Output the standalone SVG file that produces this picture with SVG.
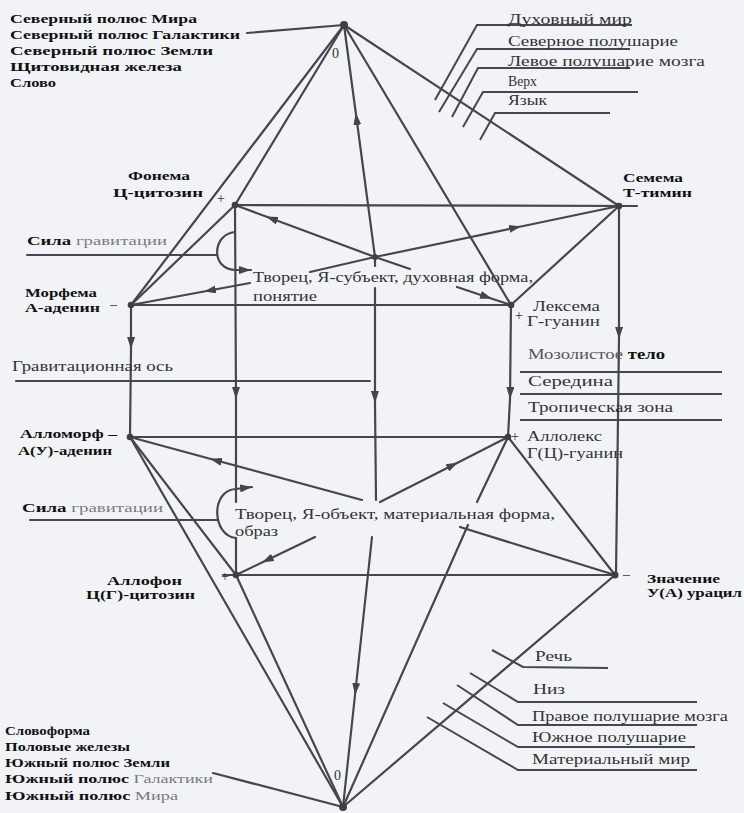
<svg xmlns="http://www.w3.org/2000/svg" width="744" height="813" viewBox="0 0 744 813">
<defs>
<marker id="arr" viewBox="0 0 12 8" refX="12" refY="4" markerWidth="12" markerHeight="8" markerUnits="userSpaceOnUse" orient="auto">
<path d="M0,0 L12,4 L0,8 z" fill="#44444e"/>
</marker>
<style>
.b{font-family:"Liberation Serif","DejaVu Serif",serif;font-weight:bold;font-size:13px;fill:#111}
.r{font-family:"Liberation Serif","DejaVu Serif",serif;font-size:14px;fill:#333}
.g{fill:#7a7a82;font-weight:normal}
.k{fill:#111;font-weight:bold}
.s{font-family:"Liberation Serif","DejaVu Serif",serif;font-size:15px;fill:#333}
.dot{fill:#3e3e48}
.ln{stroke:#46464f;stroke-width:2.2;fill:none;stroke-linecap:round}
.lt{stroke:#46464f;stroke-width:2;fill:none}
.am{marker-mid:url(#arr)}
.ae{marker-end:url(#arr)}
</style>
</defs>
<rect width="744" height="813" fill="#f2f3f6"/>

<g id="connectors">
<g class="ln">
<!-- upper frame -->
<line x1="235" y1="205" x2="637" y2="206"/>
<line x1="131" y1="305" x2="511" y2="305"/>
<line x1="235" y1="205" x2="131" y2="305"/>
<line x1="511" y1="305" x2="619" y2="206"/>
<!-- top apex -->
<line x1="344" y1="25" x2="131" y2="305"/>
<line x1="344" y1="25" x2="235" y2="205"/>
<line x1="344" y1="25" x2="511" y2="305"/>
<line x1="344" y1="25" x2="619" y2="206"/>
<line x1="344" y1="25" x2="247" y2="33"/>
<!-- lower frame -->
<line x1="130" y1="437" x2="508" y2="437"/>
<line x1="223" y1="575" x2="615" y2="575"/>
<line x1="130" y1="437" x2="236" y2="575"/>
<line x1="508" y1="437" x2="615" y2="575"/>
<!-- bottom apex -->
<line x1="130" y1="437" x2="343" y2="807"/>
<line x1="236" y1="575" x2="343" y2="807"/>
<line x1="508" y1="437" x2="477" y2="502"/>
<line x1="468" y1="525" x2="343" y2="807"/>
<line x1="615" y1="575" x2="343" y2="807"/>
<line x1="213" y1="773" x2="343" y2="807"/>
<!-- verticals -->
<path class="am" d="M131 305 L131 349 L130 437"/>
<path class="am" d="M235 205 L236 399 L236 502"/>
<line x1="236" y1="538" x2="236" y2="575"/>
<line x1="375" y1="257" x2="375" y2="266"/>
<path class="am" d="M375 288 L375 403 L376 500"/>
<path class="am" d="M511 305 L510 399 L508 437"/>
<path class="am" d="M619 206 L619 339 L616 575"/>
<!-- upper centre -->
<path class="am" d="M375 257 L355.8 113 L344 25"/>
<path class="am" d="M375 257 L266 216.5 L235 205"/>
<path class="am" d="M375 257 L521 226.5 L619 206"/>
<line x1="375" y1="257" x2="310" y2="272"/>
<path class="am" d="M250 283 L204 291.5 L131 305"/>
<line x1="375" y1="257" x2="410" y2="269"/>
<path class="am" d="M457 287 L492 298.7 L511 305"/>
<!-- lower centre -->
<path class="am" d="M362 500 L210 458.7 L130 437"/>
<path class="am" d="M380 502 L458 462.4 L508 437"/>
<path class="am" d="M315 537 L262 562.5 L236 575"/>
<path class="am" d="M372 537 L355 695 L343 807"/>
<line x1="460" y1="527" x2="615" y2="575"/>
<!-- gravity -->
<line x1="27" y1="255" x2="217" y2="255"/>
<path class="ae" d="M235 232 C212 234 210 270 236 270 L251 270"/>
<line x1="30" y1="520" x2="217" y2="520"/>
<path class="ae" d="M236 538 C212 536 210 490 236 489 L252 487"/>
<line x1="16" y1="381" x2="370" y2="381"/>
</g>
<g class="lt">
<!-- top right leaders -->
<polyline points="435,100 477,25 632,25"/>
<polyline points="439,112 477,49 630,49"/>
<polyline points="452,117 478,68 630,68"/>
<polyline points="463,127 483,92 638,92"/>
<polyline points="480,140 495,113 610,113"/>
<!-- right zone -->
<line x1="520" y1="372" x2="722" y2="372"/>
<line x1="520" y1="394" x2="722" y2="394"/>
<line x1="520" y1="420" x2="722" y2="420"/>
<!-- bottom right leaders -->
<polyline points="492,650 523,667 608,668"/>
<polyline points="470,673 518,702 697,702"/>
<polyline points="457,685 518,725 697,725"/>
<polyline points="443,703 518,747 695,747"/>
<polyline points="427,717 518,770 697,770"/>
</g>
</g>

<g id="north-apex">
<circle class="dot" cx="344" cy="25" r="4"/>
<text class="r" x="332" y="58" font-size="12">0</text>
<text class="b" x="10" y="22.5" textLength="187" lengthAdjust="spacingAndGlyphs">Северный полюс Мира</text>
<text class="b" x="10" y="38.5" textLength="230" lengthAdjust="spacingAndGlyphs">Северный полюс Галактики</text>
<text class="b" x="10" y="54.5" textLength="203" lengthAdjust="spacingAndGlyphs">Северный полюс Земли</text>
<text class="b" x="10" y="70.5" textLength="172" lengthAdjust="spacingAndGlyphs">Щитовидная железа</text>
<text class="b" x="10" y="86.5" textLength="46" lengthAdjust="spacingAndGlyphs">Слово</text>
</g>

<g id="north-labels">
<text class="r" x="508" y="24" textLength="124" lengthAdjust="spacingAndGlyphs">Духовный мир</text>
<text class="r" x="508" y="46" textLength="170" lengthAdjust="spacingAndGlyphs">Северное полушарие</text>
<text class="r" x="508" y="66" textLength="197" lengthAdjust="spacingAndGlyphs">Левое полушарие мозга</text>
<text class="r" x="508" y="86" textLength="29" lengthAdjust="spacingAndGlyphs">Верх</text>
<text class="r" x="508" y="105" textLength="39" lengthAdjust="spacingAndGlyphs">Язык</text>
</g>

<g id="fonema">
<circle class="dot" cx="235" cy="205" r="3.3"/>
<text class="b" x="128" y="179.5" textLength="62" lengthAdjust="spacingAndGlyphs">Фонема</text>
<text class="b" x="113" y="196.5" textLength="90" lengthAdjust="spacingAndGlyphs">Ц-цитозин</text>
<text class="r" x="217" y="203" font-size="16">+</text>
</g>

<g id="semema">
<circle class="dot" cx="619" cy="206" r="3.3"/>
<text class="b" x="623" y="182" textLength="60" lengthAdjust="spacingAndGlyphs">Семема</text>
<text class="b" x="623" y="197" textLength="69" lengthAdjust="spacingAndGlyphs">Т-тимин</text>
</g>

<g id="morfema">
<circle class="dot" cx="131" cy="305" r="3.3"/>
<text class="b" x="25" y="296.5" textLength="72" lengthAdjust="spacingAndGlyphs">Морфема</text>
<text class="b" x="25" y="311.5" textLength="75" lengthAdjust="spacingAndGlyphs">А-аденин</text>
<text class="r" x="110" y="309">–</text>
</g>

<g id="leksema">
<circle class="dot" cx="511" cy="305" r="3.3"/>
<text class="r" x="533" y="311" textLength="67" lengthAdjust="spacingAndGlyphs">Лексема</text>
<text class="r" x="527" y="326" textLength="73" lengthAdjust="spacingAndGlyphs">Г-гуанин</text>
<text class="r" x="515" y="320" font-size="16">+</text>
</g>

<g id="gravity-upper">
<text class="b" x="27" y="244.5" textLength="140" lengthAdjust="spacingAndGlyphs">Сила <tspan class="g">гравитации</tspan></text>
</g>

<g id="subject">
<circle class="dot" cx="375" cy="257" r="3"/>
<text class="r" x="253" y="282" textLength="280" lengthAdjust="spacingAndGlyphs">Творец, Я-субъект, духовная форма,</text>
<text class="r" x="253" y="301" textLength="64" lengthAdjust="spacingAndGlyphs" fill="#555">понятие</text>
</g>

<g id="grav-axis">
<text class="r" x="12" y="371" textLength="161" lengthAdjust="spacingAndGlyphs" fill="#555">Гравитационная ось</text>
</g>

<g id="mid-zone">
<text class="r" x="528" y="359" textLength="137" lengthAdjust="spacingAndGlyphs"><tspan fill="#555">Мозолистое</tspan> <tspan class="k">тело</tspan></text>
<text class="r" x="528" y="386" textLength="85" lengthAdjust="spacingAndGlyphs" fill="#555">Середина</text>
<text class="r" x="528" y="412" textLength="145" lengthAdjust="spacingAndGlyphs" fill="#555">Тропическая зона</text>
</g>

<g id="allomorf">
<circle class="dot" cx="130" cy="437" r="3.3"/>
<text class="b" x="20" y="437.5" textLength="97" lengthAdjust="spacingAndGlyphs">Алломорф –</text>
<text class="b" x="18" y="454.5" textLength="94" lengthAdjust="spacingAndGlyphs">А(У)-аденин</text>
</g>

<g id="allolex">
<circle class="dot" cx="508" cy="437" r="3.3"/>
<text class="r" x="527" y="441" textLength="75" lengthAdjust="spacingAndGlyphs">Аллолекс</text>
<text class="r" x="527" y="458" textLength="96" lengthAdjust="spacingAndGlyphs">Г(Ц)-гуанин</text>
<text class="r" x="511" y="441" font-size="16">+</text>
</g>

<g id="gravity-lower">
<text class="b" x="22" y="511.5" textLength="141" lengthAdjust="spacingAndGlyphs">Сила <tspan class="g">гравитации</tspan></text>
</g>

<g id="object">
<text class="r" x="235" y="519" textLength="320" lengthAdjust="spacingAndGlyphs">Творец, Я-объект, материальная форма,</text>
<text class="r" x="235" y="536" textLength="43" lengthAdjust="spacingAndGlyphs">образ</text>
</g>

<g id="allofon">
<circle class="dot" cx="236" cy="575" r="3.3"/>
<text class="b" x="107" y="584.5" textLength="75" lengthAdjust="spacingAndGlyphs">Аллофон</text>
<text class="b" x="86" y="598.5" textLength="109" lengthAdjust="spacingAndGlyphs">Ц(Г)-цитозин</text>
<text class="r" x="221" y="581" font-size="16">+</text>
</g>

<g id="znachenie">
<circle class="dot" cx="615" cy="575" r="3.5"/>
<text class="r" x="623" y="579">–</text>
<text class="b" x="647" y="583" textLength="73" lengthAdjust="spacingAndGlyphs">Значение</text>
<text class="b" x="647" y="596.5" textLength="95" lengthAdjust="spacingAndGlyphs">У(А) урацил</text>
</g>

<g id="south-labels">
<text class="r" x="535" y="661" textLength="37" lengthAdjust="spacingAndGlyphs">Речь</text>
<text class="r" x="533" y="694" textLength="32" lengthAdjust="spacingAndGlyphs">Низ</text>
<text class="r" x="532" y="721" textLength="196" lengthAdjust="spacingAndGlyphs">Правое полушарие мозга</text>
<text class="r" x="532" y="742" textLength="154" lengthAdjust="spacingAndGlyphs">Южное полушарие</text>
<text class="r" x="532" y="764" textLength="158" lengthAdjust="spacingAndGlyphs">Материальный мир</text>
</g>

<g id="south-apex">
<circle class="dot" cx="343" cy="807" r="4"/>
<text class="r" x="334" y="780" font-size="12">0</text>
<text class="b" x="5" y="734.5" textLength="85" lengthAdjust="spacingAndGlyphs">Словоформа</text>
<text class="b" x="5" y="750.5" textLength="125" lengthAdjust="spacingAndGlyphs">Половые железы</text>
<text class="b" x="5" y="766.5" textLength="165" lengthAdjust="spacingAndGlyphs">Южный полюс Земли</text>
<text class="b" x="5" y="782.5" textLength="208" lengthAdjust="spacingAndGlyphs">Южный полюс <tspan class="g">Галактики</tspan></text>
<text class="b" x="5" y="799.5" textLength="173" lengthAdjust="spacingAndGlyphs">Южный полюс <tspan class="g">Мира</tspan></text>
</g>
</svg>
